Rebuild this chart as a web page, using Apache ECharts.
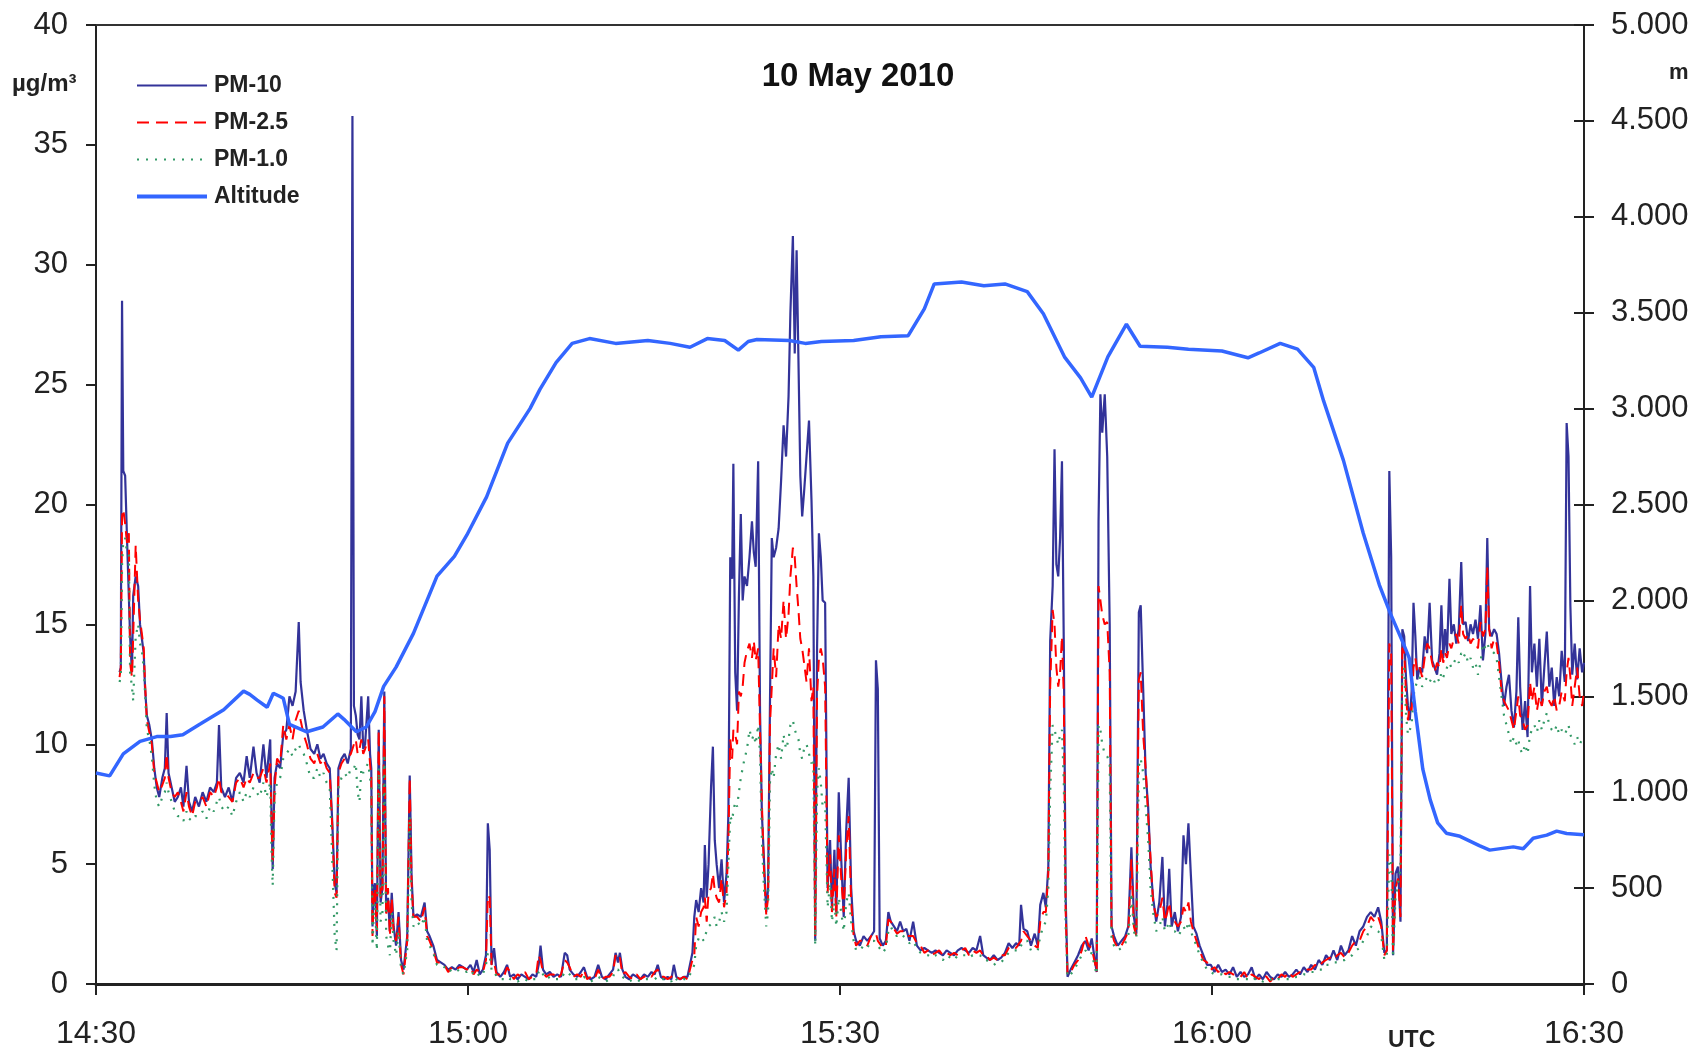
<!DOCTYPE html>
<html>
<head>
<meta charset="utf-8">
<title>10 May 2010</title>
<script src="https://cdn.jsdelivr.net/npm/echarts@6/dist/echarts.min.js"></script>
<style>
html, body { margin: 0; padding: 0; background: #fff; }
#chart { width: 1696px; height: 1050px; }
</style>
</head>
<body>
<div id="chart"></div>
<script>
// minutes after 14:30 UTC
var minutes = [
  1.9, 2.0, 2.1, 2.2, 2.35, 2.5, 2.65, 2.75, 2.9, 3.0,
  3.2, 3.4, 3.55, 3.7, 3.85, 3.95, 4.1, 4.3, 4.5, 4.7,
  4.9, 5.1, 5.35, 5.55, 5.7, 5.85, 6.1, 6.35, 6.6, 6.85,
  7.05, 7.3, 7.5, 7.75, 8.0, 8.3, 8.6, 8.9, 9.2, 9.5,
  9.75, 9.92, 10.1, 10.4, 10.7, 11.0, 11.3, 11.6, 11.9, 12.15,
  12.4, 12.7, 12.95, 13.2, 13.5, 13.75, 14.05, 14.15, 14.25, 14.4,
  14.6, 14.85, 15.1, 15.35, 15.6, 15.85, 16.1, 16.35, 16.5, 16.75,
  17.0, 17.3, 17.6, 17.85, 18.1, 18.35, 18.6, 18.85, 19.05, 19.25,
  19.4, 19.55, 19.8, 20.05, 20.3, 20.55, 20.68, 20.8, 20.95, 21.1,
  21.25, 21.4, 21.55, 21.7, 21.95, 22.1, 22.2, 22.3, 22.4, 22.5,
  22.65, 22.8, 22.95, 23.1, 23.25, 23.4, 23.55, 23.7, 23.85, 24.0,
  24.2, 24.4, 24.6, 24.8, 25.1, 25.3, 25.45, 25.6, 25.9, 26.2,
  26.5, 26.7, 26.9, 27.2, 27.5, 27.8, 28.1, 28.4, 28.7, 29.0,
  29.3, 29.6, 29.9, 30.2, 30.45, 30.7, 30.95, 31.2, 31.45, 31.6,
  31.75, 31.9, 32.1, 32.3, 32.6, 32.9, 33.15, 33.4, 33.7, 34.0,
  34.3, 34.6, 34.9, 35.2, 35.5, 35.7, 35.85, 36.05, 36.3, 36.6,
  36.9, 37.2, 37.5, 37.8, 38.0, 38.2, 38.5, 38.8, 39.1, 39.35,
  39.6, 39.9, 40.2, 40.5, 40.8, 41.1, 41.4, 41.7, 41.9, 42.1,
  42.25, 42.45, 42.7, 43.0, 43.3, 43.6, 43.9, 44.2, 44.5, 44.8,
  45.05, 45.3, 45.55, 45.8, 46.1, 46.4, 46.6, 46.8, 47.1, 47.4,
  47.7, 47.9, 48.1, 48.25, 48.4, 48.6, 48.8, 49.0, 49.1, 49.25,
  49.4, 49.6, 49.75, 49.9, 50.05, 50.25, 50.45, 50.65, 50.85, 51.0,
  51.15, 51.3, 51.4, 51.55, 51.7, 51.85, 52.0, 52.15, 52.3, 52.5,
  52.7, 52.9, 53.05, 53.2, 53.4, 53.55, 53.7, 53.85, 54.05, 54.2,
  54.35, 54.5, 54.65, 54.85, 55.05, 55.25, 55.45, 55.65, 55.85, 56.0,
  56.2, 56.35, 56.5, 56.65, 56.8, 56.95, 57.1, 57.3, 57.5, 57.7,
  57.85, 58.0, 58.15, 58.3, 58.45, 58.6, 58.8, 59.0, 59.2, 59.35,
  59.55, 59.7, 59.9, 60.1, 60.3, 60.5, 60.7, 60.9, 61.1, 61.3,
  61.6, 61.9, 62.2, 62.5, 62.75, 62.9, 63.05, 63.2, 63.45, 63.7,
  63.9, 64.1, 64.35, 64.6, 64.85, 65.1, 65.35, 65.6, 65.9, 66.2,
  66.5, 66.8, 67.1, 67.4, 67.7, 68.0, 68.3, 68.6, 68.9, 69.2,
  69.5, 69.8, 70.1, 70.4, 70.7, 71.0, 71.3, 71.55, 71.8, 72.1,
  72.4, 72.7, 73.0, 73.3, 73.6, 73.9, 74.2, 74.45, 74.6, 74.8,
  75.1, 75.4, 75.7, 75.95, 76.15, 76.4, 76.6, 76.8, 76.95, 77.15,
  77.3, 77.45, 77.6, 77.75, 77.9, 78.05, 78.2, 78.35, 78.6, 78.9,
  79.2, 79.5, 79.8, 80.05, 80.3, 80.55, 80.7, 80.85, 81.0, 81.15,
  81.35, 81.55, 81.75, 81.9, 82.1, 82.4, 82.7, 83.0, 83.25, 83.5,
  83.7, 83.9, 84.1, 84.25, 84.45, 84.65, 84.85, 85.05, 85.25, 85.5,
  85.75, 86.0, 86.2, 86.4, 86.55, 86.75, 87.0, 87.25, 87.5, 87.7,
  87.9, 88.1, 88.3, 88.5, 88.75, 89.0, 89.3, 89.6, 89.9, 90.2,
  90.5, 90.8, 91.1, 91.4, 91.7, 92.0, 92.3, 92.6, 92.9, 93.2,
  93.5, 93.8, 94.1, 94.4, 94.7, 95.0, 95.3, 95.6, 95.9, 96.2,
  96.5, 96.8, 97.1, 97.4, 97.7, 98.0, 98.3, 98.6, 98.9, 99.2,
  99.5, 99.8, 100.1, 100.4, 100.7, 101.0, 101.3, 101.6, 101.9, 102.2,
  102.5, 102.8, 103.1, 103.4, 103.65, 103.9, 104.1, 104.3, 104.45, 104.6,
  104.8, 105.0, 105.2, 105.35, 105.5, 105.65, 105.8, 105.95, 106.1, 106.25,
  106.4, 106.55, 106.75, 106.95, 107.15, 107.35, 107.55, 107.75, 107.95, 108.15,
  108.35, 108.5, 108.65, 108.8, 108.95, 109.15, 109.3, 109.5, 109.7, 109.9,
  110.1, 110.25, 110.45, 110.65, 110.85, 111.05, 111.25, 111.45, 111.65, 111.85,
  112.05, 112.2, 112.35, 112.55, 112.75, 112.95, 113.15, 113.35, 113.55, 113.75,
  113.95, 114.15, 114.35, 114.55, 114.7, 114.85, 115.05, 115.25, 115.45, 115.65,
  115.8, 116.0, 116.2, 116.4, 116.6, 116.8, 117.0, 117.2, 117.4, 117.6,
  117.8, 118.0, 118.2, 118.45, 118.6, 118.75, 118.9, 119.05, 119.25, 119.45,
  119.65, 119.85, 120.0
];

var pm10 = [
  13.0, 13.2, 28.5, 21.4, 21.2, 18.6, 18.6, 14.5, 13.0, 16.2,
  17.0, 16.6, 15.0, 14.4, 13.8, 12.4, 11.2, 10.8, 10.2, 9.0,
  8.2, 7.8, 8.6, 9.0, 11.3, 8.8, 8.2, 7.6, 7.8, 8.2,
  7.4, 9.1, 7.6, 7.2, 7.8, 7.4, 8.0, 7.6, 8.2, 8.0,
  8.4, 10.8, 8.2, 7.8, 8.2, 7.6, 8.6, 8.8, 8.4, 9.5,
  8.6, 9.9, 8.8, 8.4, 10.0, 8.6, 10.2, 7.2, 4.8, 8.6,
  9.2, 9.0, 10.4, 10.6, 12.0, 11.6, 12.2, 15.1, 12.6, 11.4,
  10.6, 9.8, 9.6, 10.0, 9.4, 9.6, 9.2, 9.0, 6.8, 4.2,
  3.8, 9.0, 9.4, 9.6, 9.2, 9.8, 36.2, 11.6, 11.2, 10.4,
  10.2, 12.0, 9.8, 10.0, 12.0, 9.6, 9.0, 2.4, 4.0, 4.2,
  2.0, 10.6, 3.4, 4.0, 12.2, 3.0, 3.6, 2.2, 3.8, 2.4,
  1.6, 3.0, 1.0, 0.6, 2.0, 8.7, 4.5, 2.8, 2.9, 2.8,
  3.4, 2.2, 2.0, 1.6, 1.0, 0.9, 0.8, 0.6, 0.7, 0.6,
  0.8, 0.7, 0.6, 0.8, 0.5, 1.0, 0.4, 0.6, 1.2, 6.7,
  5.6, 0.8, 1.5, 0.5, 0.3, 0.5, 0.8, 0.3, 0.4, 0.2,
  0.4, 0.3, 0.2, 0.4, 0.3, 0.8, 1.6, 0.6, 0.4, 0.5,
  0.3, 0.4, 0.3, 1.3, 1.2, 0.6, 0.4, 0.3, 0.5, 0.7,
  0.3, 0.2, 0.3, 0.8, 0.3, 0.2, 0.4, 0.6, 1.3, 0.9,
  1.3, 0.6, 0.3, 0.2, 0.4, 0.3, 0.2, 0.4, 0.3, 0.5,
  0.4, 0.8, 0.3, 0.2, 0.3, 0.2, 0.8, 0.3, 0.2, 0.3,
  0.3, 0.8, 1.3, 2.8, 3.5, 3.0, 4.0, 3.4, 5.8, 3.6,
  5.0, 8.2, 9.9, 6.0, 5.0, 4.0, 5.2, 3.4, 4.6, 7.1,
  17.8, 16.9, 21.7, 13.0, 11.4, 16.2, 19.6, 16.0, 17.0, 16.6,
  17.8, 19.3, 18.0, 17.4, 21.8, 11.4, 7.1, 5.4, 3.0, 4.0,
  11.6, 18.6, 17.8, 18.2, 19.0, 21.0, 23.3, 22.0, 24.5, 28.0,
  31.2, 26.3, 30.6, 26.0, 21.2, 19.5, 20.5, 22.0, 23.5, 20.2,
  17.0, 1.8, 14.0, 18.8, 17.8, 16.0, 15.9, 4.0, 6.0, 3.2,
  5.6, 3.0, 8.0, 5.2, 2.8, 6.4, 8.6, 4.0, 2.2, 1.8,
  1.6, 2.0, 1.8, 2.0, 2.2, 13.5, 12.3, 1.9, 1.6, 1.8,
  3.0, 2.6, 2.4, 2.2, 2.6, 2.2, 2.3, 1.8, 2.6, 1.6,
  1.4, 1.5, 1.4, 1.3, 1.4, 1.3, 1.2, 1.4, 1.3, 1.2,
  1.4, 1.5, 1.4, 1.3, 1.5, 1.4, 2.0, 1.2, 1.1, 1.0,
  1.2, 1.0, 1.1, 1.3, 1.7, 1.5, 1.7, 1.6, 3.3, 2.3,
  2.2, 1.6, 2.1, 1.6, 3.3, 3.8, 3.2, 4.9, 14.3, 16.6,
  22.3, 17.5, 17.0, 18.6, 21.8, 14.0, 3.6, 0.3, 0.6, 0.9,
  1.2, 1.6, 1.8, 1.4, 1.9, 1.0, 0.5, 19.3, 24.6, 23.0,
  24.6, 22.0, 15.0, 2.4, 2.0, 1.6, 1.8, 2.0, 2.4, 5.7,
  2.8, 2.1, 15.5, 15.8, 12.3, 8.8, 7.4, 4.9, 3.6, 2.6,
  3.4, 5.3, 2.4, 3.3, 4.8, 2.4, 3.0, 2.2, 2.8, 6.2,
  5.0, 6.7, 4.5, 2.4, 2.1, 1.6, 1.2, 0.8, 0.8, 0.5,
  0.8, 0.5, 0.6, 0.4, 0.7, 0.3, 0.5, 0.3, 0.4, 0.7,
  0.2, 0.4, 0.2, 0.5, 0.3, 0.2, 0.4, 0.3, 0.5, 0.3,
  0.4, 0.6, 0.4, 0.7, 0.5, 0.8, 0.6, 1.0, 0.8, 1.2,
  1.0, 1.4, 1.0, 1.6, 1.2, 1.4, 2.0, 1.6, 2.2, 2.4,
  2.8, 3.0, 2.8, 3.2, 2.6, 1.3, 1.4, 21.4, 17.8, 1.2,
  4.6, 4.9, 2.6, 14.8, 14.5, 12.7, 11.6, 11.0, 12.2, 15.9,
  14.5, 12.7, 13.2, 13.0, 14.5, 13.8, 15.9, 13.5, 13.2, 12.9,
  13.8, 15.8, 13.6, 14.8, 13.8, 16.9, 14.6, 15.0, 14.2, 14.8,
  17.6, 15.0, 15.1, 14.3, 15.0, 14.6, 15.2, 14.4, 15.8, 13.5,
  14.6, 18.6, 14.8, 14.5, 14.8, 14.6, 13.8, 12.6, 11.6, 12.4,
  12.9, 11.4, 10.7, 12.2, 15.3, 12.4, 10.6, 11.8, 10.3, 16.6,
  13.0, 14.2, 12.4, 14.4, 11.6, 13.2, 14.7, 12.4, 13.2, 11.6,
  12.8, 12.0, 13.9, 12.6, 23.4, 22.0, 15.8, 12.9, 14.2, 12.7,
  14.0, 13.0, 13.4
];

var pm25 = [
  12.8, 13.2, 19.5, 19.8, 19.2, 18.4, 18.8, 13.4, 12.8, 14.5,
  18.3, 16.0, 15.2, 14.6, 14.0, 12.6, 11.0, 10.5, 10.0, 8.8,
  8.4, 8.0, 8.3, 8.6, 9.6, 8.6, 8.0, 7.8, 8.0, 7.6,
  7.2, 8.0, 7.4, 7.0, 7.6, 7.6, 7.8, 7.4, 8.0, 7.8,
  8.2, 8.6, 8.0, 8.0, 7.8, 7.6, 8.4, 8.6, 8.2, 8.6,
  8.4, 8.8, 8.6, 8.6, 9.0, 8.4, 9.2, 7.0, 5.0, 8.2,
  9.4, 9.2, 10.8, 10.2, 10.8, 10.2, 11.0, 11.4, 11.0, 10.4,
  10.0, 9.4, 9.2, 9.6, 9.2, 9.4, 9.0, 8.8, 6.6, 3.8,
  3.6, 8.8, 9.2, 9.4, 9.4, 9.6, 9.8, 10.0, 10.2, 9.6,
  9.8, 10.2, 9.6, 9.8, 10.2, 9.2, 8.6, 2.0, 3.6, 4.0,
  2.2, 10.6, 3.6, 3.8, 12.0, 2.8, 4.0, 2.0, 3.6, 2.2,
  1.8, 2.8, 0.8, 0.4, 1.8, 8.6, 4.2, 2.8, 2.8, 2.6,
  3.2, 2.0, 1.8, 1.4, 0.9, 0.9, 0.8, 0.5, 0.7, 0.6,
  0.7, 0.7, 0.6, 0.7, 0.4, 0.6, 0.5, 0.5, 1.0, 3.7,
  3.6, 0.8, 0.9, 0.4, 0.4, 0.3, 0.7, 0.5, 0.2, 0.4,
  0.3, 0.5, 0.2, 0.3, 0.4, 1.2, 1.0, 0.5, 0.3, 0.4,
  0.4, 0.2, 0.4, 1.0, 0.9, 0.7, 0.3, 0.4, 0.3, 0.6,
  0.2, 0.3, 0.2, 0.6, 0.2, 0.3, 0.3, 0.5, 1.2, 1.0,
  1.1, 0.4, 0.5, 0.3, 0.2, 0.4, 0.2, 0.3, 0.4, 0.3,
  0.5, 0.6, 0.3, 0.3, 0.2, 0.3, 0.4, 0.3, 0.2, 0.3,
  0.2, 0.6, 1.0, 1.2, 2.8, 2.4, 3.0, 3.2, 3.6, 2.6,
  3.8, 4.0, 4.6, 3.9, 3.6, 3.4, 4.4, 3.2, 3.8, 6.0,
  10.2, 9.4, 10.6, 10.4, 10.0, 12.2, 12.0, 12.4, 13.4, 13.9,
  14.2, 13.6, 14.3, 13.5, 14.0, 10.6, 7.6, 5.0, 2.9, 3.6,
  10.8, 12.4, 14.0, 12.8, 15.0, 14.4, 16.0, 14.4, 15.4, 17.0,
  18.2, 17.8, 16.6, 15.6, 14.4, 14.0, 13.4, 12.6, 14.0, 11.8,
  12.4, 2.0, 12.0, 13.6, 14.0, 13.6, 12.4, 3.8, 5.4, 3.0,
  4.8, 2.8, 6.2, 4.4, 3.0, 5.6, 7.0, 3.4, 2.0, 1.6,
  1.8, 1.8, 1.6, 2.0, 2.0, 2.1, 1.8, 1.8, 1.5, 1.6,
  2.7, 2.6, 2.3, 2.1, 2.2, 2.2, 2.0, 2.0, 2.0, 1.7,
  1.6, 1.3, 1.4, 1.2, 1.3, 1.4, 1.2, 1.3, 1.2, 1.3,
  1.2, 1.4, 1.5, 1.2, 1.4, 1.3, 1.4, 1.2, 1.2, 1.0,
  1.1, 1.0, 1.2, 1.2, 1.5, 1.6, 1.5, 1.7, 1.8, 2.2,
  2.0, 1.8, 1.6, 1.5, 2.6, 3.0, 3.0, 4.6, 12.4, 15.6,
  15.0, 13.2, 12.4, 13.0, 14.5, 12.0, 3.0, 0.4, 0.5, 0.8,
  1.0, 1.4, 2.0, 1.6, 1.5, 0.9, 0.5, 16.6, 16.0, 15.4,
  15.0, 15.1, 13.0, 2.2, 1.8, 1.5, 1.6, 1.9, 2.2, 5.2,
  2.4, 2.0, 12.7, 13.0, 10.4, 9.0, 7.0, 5.2, 3.4, 2.8,
  3.0, 3.6, 2.6, 3.0, 3.4, 2.6, 2.6, 2.4, 2.6, 3.2,
  3.0, 3.4, 2.6, 2.2, 1.8, 1.4, 1.0, 0.9, 0.6, 0.7,
  0.5, 0.6, 0.4, 0.5, 0.4, 0.4, 0.3, 0.5, 0.2, 0.4,
  0.3, 0.2, 0.4, 0.3, 0.1, 0.3, 0.2, 0.4, 0.3, 0.5,
  0.3, 0.4, 0.5, 0.5, 0.6, 0.6, 0.8, 0.7, 0.9, 1.0,
  1.1, 1.0, 1.2, 1.3, 1.1, 1.3, 1.6, 1.8, 1.8, 2.2,
  2.4, 2.8, 2.6, 2.8, 2.4, 1.2, 1.4, 14.2, 13.8, 1.4,
  4.0, 4.4, 2.8, 14.3, 14.0, 12.0, 11.0, 11.6, 11.4, 13.2,
  13.6, 13.0, 13.2, 12.8, 13.6, 14.2, 14.0, 13.4, 13.0, 13.4,
  13.2, 14.0, 13.4, 13.8, 13.6, 14.2, 14.0, 14.4, 14.6, 14.2,
  15.8, 14.6, 14.4, 14.6, 14.2, 14.4, 14.2, 14.0, 15.1, 14.5,
  14.8, 17.4, 14.8, 14.0, 14.4, 14.2, 13.4, 12.2, 11.8, 11.6,
  11.4, 11.0, 10.6, 11.4, 12.0, 11.2, 11.0, 10.6, 10.8, 12.6,
  11.8, 12.4, 11.4, 12.0, 11.6, 12.2, 12.4, 11.8, 11.6, 12.0,
  11.4, 11.6, 12.2, 11.8, 13.0, 13.6, 12.8, 11.6, 12.4, 13.2,
  12.0, 11.6, 12.2
];

var pm1 = [
  12.6, 12.8, 17.5, 18.5, 18.6, 18.0, 17.9, 13.0, 12.4, 11.8,
  14.5, 15.0, 14.2, 13.9, 13.2, 12.2, 10.6, 10.2, 9.5, 8.3,
  7.6, 7.4, 7.8, 8.0, 8.4, 8.0, 7.6, 7.2, 7.0, 7.0,
  6.8, 7.2, 6.9, 6.8, 7.0, 7.0, 7.2, 6.9, 7.4, 7.2,
  7.6, 7.8, 7.4, 7.2, 7.4, 7.0, 7.6, 8.0, 7.6, 8.0,
  7.8, 8.2, 8.0, 7.8, 8.4, 7.8, 8.4, 5.6, 4.1, 7.8,
  8.4, 8.6, 9.4, 9.6, 9.8, 9.5, 9.8, 10.0, 9.8, 9.6,
  9.2, 8.6, 8.6, 9.0, 8.6, 8.8, 8.4, 8.2, 5.2, 2.0,
  1.4, 8.2, 8.6, 8.8, 8.6, 9.0, 9.0, 9.0, 9.2, 8.0,
  7.6, 9.0, 8.8, 9.0, 9.2, 8.6, 8.2, 1.6, 3.0, 3.4,
  1.4, 9.0, 2.6, 3.0, 9.6, 2.0, 1.6, 1.2, 3.0, 1.8,
  1.2, 2.2, 0.6, 0.4, 1.4, 7.0, 3.4, 2.4, 2.6, 2.4,
  2.8, 1.8, 1.6, 1.3, 0.8, 0.8, 0.7, 0.5, 0.6, 0.5,
  0.6, 0.6, 0.5, 0.6, 0.4, 0.5, 0.3, 0.4, 0.8, 1.3,
  1.2, 0.6, 0.6, 0.3, 0.2, 0.2, 0.3, 0.2, 0.2, 0.1,
  0.2, 0.2, 0.1, 0.2, 0.2, 0.5, 0.6, 0.4, 0.2, 0.3,
  0.2, 0.2, 0.2, 0.5, 0.5, 0.4, 0.2, 0.2, 0.2, 0.3,
  0.2, 0.1, 0.2, 0.3, 0.2, 0.1, 0.2, 0.3, 0.6, 0.6,
  0.6, 0.3, 0.2, 0.1, 0.2, 0.2, 0.1, 0.2, 0.2, 0.2,
  0.2, 0.3, 0.2, 0.2, 0.2, 0.1, 0.3, 0.2, 0.1, 0.2,
  0.2, 0.4, 0.6, 0.8, 1.6, 1.9, 2.0, 1.8, 2.0, 2.2,
  2.4, 2.5, 2.6, 2.8, 2.4, 2.6, 3.0, 2.6, 3.0, 5.0,
  7.0, 6.8, 7.2, 7.6, 7.4, 8.0, 8.6, 9.0, 9.4, 9.8,
  10.6, 10.2, 10.4, 10.0, 10.8, 9.6, 6.0, 4.2, 2.4, 3.0,
  8.4, 9.0, 8.6, 9.6, 10.0, 9.4, 10.4, 9.8, 10.2, 10.8,
  11.0, 10.6, 10.4, 10.2, 9.6, 9.4, 9.8, 10.0, 9.6, 9.2,
  9.4, 1.6, 8.0, 9.0, 8.4, 7.4, 7.6, 3.2, 4.2, 2.6,
  3.4, 2.4, 3.6, 3.0, 2.2, 3.4, 3.8, 2.6, 1.8, 1.4,
  1.4, 1.6, 1.5, 1.8, 1.8, 1.8, 1.6, 1.6, 1.3, 1.5,
  2.2, 2.4, 2.1, 2.0, 2.1, 2.0, 1.9, 1.7, 1.8, 1.5,
  1.3, 1.2, 1.2, 1.1, 1.2, 1.1, 1.0, 1.2, 1.1, 1.0,
  1.2, 1.2, 1.2, 1.1, 1.2, 1.2, 1.2, 1.0, 1.0, 0.9,
  0.8, 0.9, 0.9, 1.1, 1.3, 1.4, 1.4, 1.4, 1.6, 1.8,
  1.8, 1.4, 1.4, 1.4, 2.0, 2.4, 2.6, 4.0, 8.0, 10.8,
  10.6, 10.3, 10.0, 10.4, 10.6, 8.4, 2.4, 0.3, 0.4, 0.6,
  0.9, 1.2, 1.4, 1.2, 1.3, 0.7, 0.4, 10.8, 10.6, 10.0,
  9.6, 9.5, 9.2, 1.8, 1.6, 1.4, 1.5, 1.7, 2.0, 3.8,
  2.2, 1.9, 9.1, 9.4, 8.8, 7.4, 6.0, 4.0, 3.0, 2.2,
  2.4, 2.8, 2.2, 2.4, 2.6, 2.2, 2.2, 2.0, 2.2, 2.4,
  2.2, 2.6, 2.2, 1.9, 1.6, 1.2, 0.9, 0.6, 0.5, 0.4,
  0.4, 0.4, 0.3, 0.3, 0.3, 0.2, 0.2, 0.2, 0.2, 0.3,
  0.2, 0.2, 0.1, 0.2, 0.2, 0.1, 0.2, 0.2, 0.2, 0.2,
  0.2, 0.3, 0.3, 0.4, 0.4, 0.5, 0.5, 0.6, 0.6, 0.8,
  0.8, 0.9, 0.9, 1.0, 1.0, 1.1, 1.2, 1.4, 1.5, 1.8,
  2.0, 2.4, 2.3, 2.2, 2.0, 1.0, 1.2, 5.4, 5.2, 1.1,
  3.6, 4.2, 4.8, 13.0, 13.2, 11.2, 10.4, 10.6, 10.8, 12.0,
  12.4, 12.6, 12.8, 12.4, 12.6, 12.8, 12.6, 12.8, 12.6, 12.8,
  12.6, 13.0, 12.8, 13.0, 13.2, 13.4, 13.2, 13.4, 13.6, 13.4,
  13.8, 13.6, 13.8, 13.4, 13.6, 13.2, 13.4, 12.9, 13.4, 14.2,
  14.0, 14.2, 14.0, 13.9, 13.8, 13.6, 12.8, 12.0, 11.2, 10.8,
  10.4, 10.0, 10.3, 10.0, 10.2, 9.8, 9.6, 10.0, 9.6, 10.4,
  10.6, 10.8, 10.5, 11.0, 10.6, 11.0, 11.3, 10.8, 10.6, 10.5,
  10.8, 10.4, 10.6, 10.4, 10.6, 10.8, 10.4, 10.2, 10.0, 10.3,
  10.0, 10.2, 10.3
];

// altitude track, m
var altMinutes = [
  0, 1.1, 2.2, 3.55, 4.9, 6.0, 7.0, 8.4, 10.3, 11.9,
  12.4, 13.0, 13.8, 14.3, 14.8, 15.1, 15.6, 17.0, 18.3, 19.5,
  20.0, 21.0, 21.8, 22.5, 23.2, 24.2, 25.6, 27.5, 28.9, 29.9,
  31.5, 33.2, 35.0, 35.8, 37.1, 38.4, 39.8, 41.9, 44.5, 46.3,
  47.9, 49.3, 50.7, 51.8, 52.6, 53.3, 55.9, 57.2, 58.5, 61.1,
  63.3, 65.5, 66.8, 67.6, 69.8, 71.6, 73.3, 75.1, 76.4, 78.1,
  79.4, 80.3, 81.6, 83.1, 84.2, 86.4, 88.1, 90.8, 92.9, 93.8,
  95.5, 96.9, 98.2, 99.0, 100.6, 102.2, 103.5, 104.4, 105.4, 105.9,
  106.4, 107.0, 107.6, 108.2, 108.9, 110.0, 111.6, 112.4, 114.3, 115.1,
  115.9, 117.0, 117.8, 118.6, 120
];
var altitude = [
  1100, 1085, 1200, 1265, 1290, 1290, 1300, 1355, 1430, 1527,
  1510, 1480, 1443, 1516, 1500, 1490, 1354, 1315, 1340, 1408,
  1380, 1315, 1340, 1420, 1552, 1652, 1828, 2127, 2230, 2340,
  2540, 2820, 3000, 3100, 3240, 3340, 3365, 3340, 3355, 3340,
  3320, 3365, 3355, 3305, 3350, 3360, 3355, 3340, 3350, 3355,
  3375, 3380, 3520, 3650, 3660, 3640, 3650, 3610, 3495, 3270,
  3160, 3060, 3270, 3440, 3325, 3320, 3310, 3300, 3265, 3290,
  3340, 3310, 3215, 3040, 2730, 2350, 2080, 1930, 1780, 1700,
  1420, 1120, 960, 840, 786, 770, 720, 698, 715, 705,
  760, 776, 797, 785, 778
];

var timeTicks = ['14:30', '15:00', '15:30', '16:00', '16:30'];

var FONT = '"Liberation Sans", Arial, sans-serif';
var INK = '#222';

function pairs(xs, ys) {
  var out = [];
  for (var i = 0; i < xs.length; i++) out.push([xs[i], ys[i]]);
  return out;
}

var myChart = echarts.init(document.getElementById('chart'), null, { renderer: 'canvas' });

var option = {
  backgroundColor: '#fff',
  animation: false,
  title: {
    text: '10 May 2010',
    left: 853,
    top: 55,
    textAlign: 'center',
    textStyle: { fontFamily: FONT, fontSize: 33, fontWeight: 'bold', color: '#111' }
  },
  legend: {
    orient: 'vertical',
    left: 135,
    top: 74,
    padding: 0,
    itemWidth: 70,
    itemHeight: 14,
    itemGap: 14,
    data: [
      { name: 'PM-10' },
      { name: 'PM-2.5' },
      { name: 'PM-1.0' },
      { name: 'Altitude', lineStyle: { width: 4 } }
    ],
    itemStyle: { opacity: 0 },
    textStyle: { fontFamily: FONT, fontSize: 23, fontWeight: 'bold', color: INK, padding: [0, 0, 0, 2] }
  },
  grid: { left: 96, right: 112, top: 25, bottom: 65 },
  xAxis: [
    {
      type: 'value',
      min: 0,
      max: 120,
      interval: 30,
      axisLine: { onZero: false, lineStyle: { color: '#222', width: 3 } },
      axisTick: { length: 11, lineStyle: { color: '#222', width: 2 } },
      splitLine: { show: false },
      axisLabel: {
        margin: 34,
        fontFamily: FONT,
        fontSize: 32,
        color: INK,
        formatter: function (v) { return timeTicks[Math.round(v / 30)] || ''; }
      }
    },
    {
      type: 'value',
      position: 'top',
      min: 0,
      max: 120,
      axisLine: { show: true, onZero: false, lineStyle: { color: '#333', width: 2 } },
      axisTick: { show: false },
      axisLabel: { show: false },
      splitLine: { show: false }
    }
  ],
  yAxis: [
    {
      type: 'value',
      position: 'left',
      min: 0,
      max: 40,
      interval: 5,
      axisLine: { show: true, onZero: false, lineStyle: { color: '#222', width: 2 } },
      axisTick: { show: true, length: 10, lineStyle: { color: '#222', width: 2 } },
      splitLine: { show: false },
      axisLabel: { margin: 28, fontFamily: FONT, fontSize: 31, color: INK }
    },
    {
      type: 'value',
      position: 'right',
      min: 0,
      max: 5000,
      interval: 500,
      axisLine: { show: true, onZero: false, lineStyle: { color: '#222', width: 2 } },
      axisTick: { show: true, length: 10, lineStyle: { color: '#222', width: 2 } },
      splitLine: { show: false },
      axisLabel: {
        margin: 27,
        fontFamily: FONT,
        fontSize: 31,
        color: INK,
        formatter: function (v) {
          return v >= 1000 ? Math.floor(v / 1000) + '.' + ('00' + (v % 1000)).slice(-3) : String(v);
        }
      }
    },
    {
      // inner half of the crossing ticks on the right axis
      type: 'value',
      position: 'right',
      min: 0,
      max: 5000,
      interval: 500,
      axisLine: { show: false, onZero: false },
      axisTick: { show: true, inside: true, length: 10, lineStyle: { color: '#222', width: 2 } },
      axisLabel: { show: false },
      splitLine: { show: false }
    }
  ],
  graphic: [
    {
      type: 'text', left: 12, top: 72,
      style: { text: 'µg/m³', fontFamily: FONT, fontSize: 24, fontWeight: 'bold', fill: INK }
    },
    {
      type: 'text', left: 1669, top: 62,
      style: { text: 'm', fontFamily: FONT, fontSize: 22, fontWeight: 'bold', fill: INK }
    },
    {
      type: 'text', left: 1388, top: 1029,
      style: { text: 'UTC', fontFamily: FONT, fontSize: 23, fontWeight: 'bold', fill: INK }
    }
  ],
  series: [
    {
      name: 'PM-10',
      type: 'line',
      yAxisIndex: 0,
      symbol: 'none',
      data: pairs(minutes, pm10),
      lineStyle: { color: '#333399', width: 2.2 },
      itemStyle: { color: '#333399' }
    },
    {
      name: 'PM-2.5',
      type: 'line',
      yAxisIndex: 0,
      symbol: 'none',
      data: pairs(minutes, pm25),
      lineStyle: { color: '#ff0000', width: 2, type: [12, 7] },
      itemStyle: { color: '#ff0000' }
    },
    {
      name: 'PM-1.0',
      type: 'line',
      yAxisIndex: 0,
      symbol: 'none',
      data: pairs(minutes, pm1),
      lineStyle: { color: '#339966', width: 2.2, type: [2, 7] },
      itemStyle: { color: '#339966' }
    },
    {
      name: 'Altitude',
      type: 'line',
      yAxisIndex: 1,
      symbol: 'none',
      data: pairs(altMinutes, altitude),
      lineStyle: { color: '#3366ff', width: 3.5 },
      itemStyle: { color: '#3366ff' }
    }
  ]
};

myChart.setOption(option);
</script>
</body>
</html>
